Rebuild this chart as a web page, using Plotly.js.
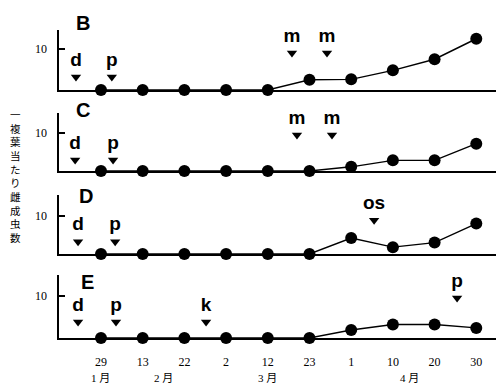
<!DOCTYPE html>
<html><head><meta charset="utf-8">
<script src="https://cdn.plot.ly/plotly-3.0.1.min.js"></script>
<style>html,body{margin:0;padding:0;background:#fff}#chart{width:496px;height:383px}</style>
</head><body><div id="chart"></div>
<script>
// ---- data ----
const dateLabels = ['29','13','22','2','12','23','1','10','20','30'];
const dateIndex = [0,1,2,3,4,5,6,7,8,9];
const monthLabels = ['1 月','2 月','3 月','4 月'];
const monthPos = [0, 1.5, 4, 7.4];
const panelNames = ['B','C','D','E'];
const seriesB = [0,0,0,0,0,2.5,2.6,4.8,7.5,12.5];
const seriesC = [0,0,0,0,0,0,1.1,2.8,2.8,7.2];
const seriesD = [0,0,0,0,0,0,4.2,1.8,3.0,8.0];
const seriesE = [0,0,0,0,0,0,1.9,3.2,3.2,2.4];
const eventsB = {labels:['d','p','m','m'], x:[-0.6,0.26,4.58,5.42], y:[3.2,3.2,9.0,9.0]};
const eventsC = {labels:['d','p','m','m'], x:[-0.62,0.29,4.7,5.54], y:[2.9,2.9,9.5,9.5]};
const eventsD = {labels:['d','p','os'], x:[-0.55,0.34,6.55], y:[3.2,3.2,8.9]};
const eventsE = {labels:['d','p','k','p'], x:[-0.55,0.36,2.52,8.54], y:[3.8,3.8,3.8,9.5]};
const yTickVals = [10];
const yTickText = ['10'];
const yAxisTitle = '一複葉当たり雌成虫数';

// ---- layout helpers (pixel geometry) ----
const H = 383;
const panelPx = [[30,90],[113,171],[195,254],[275,338]]; // top, baseline
const pxPerUnit = [4.1,3.8,3.8,4.2];
const series = [seriesB, seriesC, seriesD, seriesE];
const events = [eventsB, eventsC, eventsD, eventsE];
const letterPx = [[83,23],[83,110],[86,196],[87,282]];
const xRange = [-1.007, 9.473];

const traces = [];
const layout = {
  width:496, height:383, margin:{l:59,r:0,t:0,b:0},
  paper_bgcolor:'#fff', plot_bgcolor:'#fff', showlegend:false,
  font:{family:'Liberation Serif', color:'#000', size:12},
  annotations:[], shapes:[]
};

for (let i=0;i<4;i++){
  const sx = i===0?'':String(i+1);
  const [top,base] = panelPx[i];
  layout['xaxis'+sx] = {
    domain:[0,1], range:xRange, anchor:'y'+sx,
    showgrid:false, zeroline:false, showline:true, linecolor:'#000', linewidth:1.6,
    ticks:'', tickvals: i===3?dateIndex:[], ticktext: i===3?dateLabels:[],
    showticklabels: i===3, ticklabelstandoff: 12,
    tickfont:{family:'Liberation Serif', size:12, color:'#000'}
  };
  layout['yaxis'+sx] = {
    domain:[1-base/H, 1-top/H], range:[0,(base-top)/pxPerUnit[i]], anchor:'x'+sx,
    showgrid:false, zeroline:false, showline:true, linecolor:'#000', linewidth:1.6,
    ticks:'inside', ticklen:6, tickwidth:1.6, tickcolor:'#000',
    tickvals:yTickVals, ticktext:yTickText, ticklabelstandoff:8,
    tickfont:{family:'Liberation Serif', size:12, color:'#000'}
  };
  traces.push({
    type:'scatter', mode:'lines+markers', x:dateIndex, y:series[i],
    xaxis:'x'+sx, yaxis:'y'+sx, cliponaxis:false,
    line:{color:'#000', width:1.4}, marker:{color:'#000', size:12}
  });
  const ev = events[i];
  traces.push({
    type:'scatter', mode:'markers+text', x:ev.x, y:ev.y, text:ev.labels,
    textposition:'top center', xaxis:'x'+sx, yaxis:'y'+sx, cliponaxis:false,
    marker:{symbol:'triangle-down', color:'#000', size:9},
    textfont:{family:'Liberation Sans', size:19, color:'#000', weight:'bold'}
  });
  layout.annotations.push({
    xref:'paper', yref:'paper', x:(letterPx[i][0]-59)/437, y:1-letterPx[i][1]/H,
    text:panelNames[i], showarrow:false, xanchor:'center', yanchor:'middle',
    font:{family:'Liberation Sans', size:20, color:'#000', weight:'bold'}
  });
}
for (let k=0;k<monthLabels.length;k++){
  layout.annotations.push({
    xref:'x4', yref:'paper', x:monthPos[k], y:1-378/H, text:monthLabels[k],
    showarrow:false, xanchor:'center', yanchor:'middle',
    font:{family:'Liberation Serif, Noto Sans CJK JP', size:11, color:'#000'}
  });
}
layout.annotations.push({
  xref:'paper', yref:'paper', x:(15-59)/437, y:1-176/H,
  text: yAxisTitle.split('').join('<br>'), showarrow:false,
  xanchor:'center', yanchor:'middle',
  font:{family:'Noto Sans CJK JP', size:10.5, color:'#000'}
});

Plotly.newPlot('chart', traces, layout, {staticPlot:true, displayModeBar:false});
</script></body></html>
